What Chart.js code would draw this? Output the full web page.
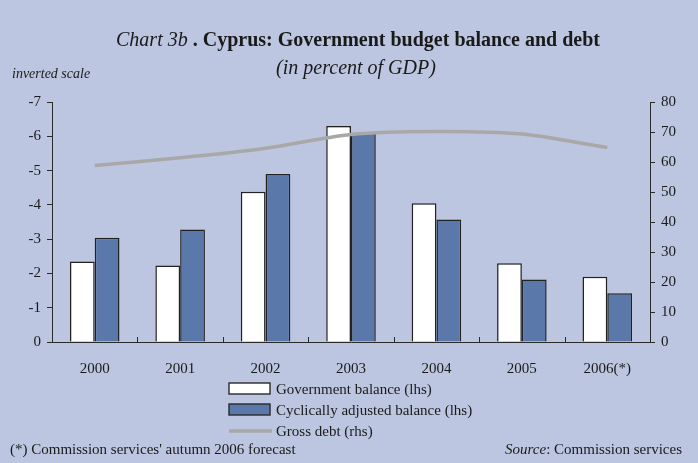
<!DOCTYPE html>
<html>
<head>
<meta charset="utf-8">
<script src="https://cdn.jsdelivr.net/npm/chart.js@4"></script>
<style>
  html, body { margin: 0; padding: 0; background: #bcc6e0; }
  canvas { display: block; }
</style>
</head>
<body>
<canvas id="grafico" width="698" height="463"></canvas>
<script>
// data
const years = ["2000", "2001", "2002", "2003", "2004", "2005", "2006(*)"];
const govBalance = [-2.35, -2.23, -4.38, -6.3, -4.05, -2.3, -1.9];
const cycAdjBalance = [-3.04, -3.28, -4.9, -6.1, -3.57, -1.82, -1.42];
const grossDebt = [58.8, 61.4, 64.6, 69.2, 70.2, 69.3, 64.8];
const leftTicks = [-7, -6, -5, -4, -3, -2, -1, 0];
const rightTicks = [0, 10, 20, 30, 40, 50, 60, 70, 80];

const BG = "#bcc6e0";
const AXIS = "#2a2a2a";
const SERIF = "'Liberation Serif', 'DejaVu Serif', serif";

const decorations = {
    id: "decorations",
    beforeDraw(chart) {
        const c = chart.ctx;
        c.save();
        c.fillStyle = BG;
        c.fillRect(0, 0, chart.width, chart.height);
        c.restore();
    },
    afterDraw(chart) {
        const c = chart.ctx;
        const x = chart.scales.x;
        const area = chart.chartArea;
        c.save();
        c.fillStyle = "#1a1a1a";
        c.textBaseline = "alphabetic";

        // title, mixed italic / bold
        const t1 = "Chart 3b ";
        const t2 = ". Cyprus: Government budget balance and debt";
        c.font = "italic 20px " + SERIF;
        const w1 = c.measureText(t1).width;
        c.font = "bold 20px " + SERIF;
        const w2 = c.measureText(t2).width;
        let tx = 358 - (w1 + w2) / 2;
        c.font = "italic 20px " + SERIF;
        c.fillText(t1, tx, 46);
        c.font = "bold 20px " + SERIF;
        c.fillText(t2, tx + w1, 46);

        c.font = "italic 20px " + SERIF;
        c.textAlign = "center";
        c.fillText("(in percent of GDP)", 356, 74);

        c.textAlign = "left";
        c.font = "italic 14px " + SERIF;
        c.fillText("inverted scale", 12, 78);

        // category tick marks pointing up from the x axis
        c.strokeStyle = AXIS;
        c.lineWidth = 1;
        for (let i = 0; i < years.length - 1; i++) {
            const px = Math.round((x.getPixelForTick(i) + x.getPixelForTick(i + 1)) / 2) + 0.5;
            c.beginPath();
            c.moveTo(px, area.bottom);
            c.lineTo(px, area.bottom - 5);
            c.stroke();
        }

        // legend
        c.font = "15px " + SERIF;
        c.lineWidth = 1.4;
        c.fillStyle = "#ffffff";
        c.fillRect(229, 383, 41, 11);
        c.strokeRect(229, 383, 41, 11);
        c.fillStyle = "#5a78a9";
        c.fillRect(229, 404, 41, 11);
        c.strokeRect(229, 404, 41, 11);
        c.strokeStyle = "#a8a8a8";
        c.lineWidth = 3.5;
        c.beginPath();
        c.moveTo(229, 431);
        c.lineTo(272, 431);
        c.stroke();
        c.fillStyle = "#1a1a1a";
        c.fillText("Government balance (lhs)", 276, 394);
        c.fillText("Cyclically adjusted balance (lhs)", 276, 415);
        c.fillText("Gross debt (rhs)", 276, 436);

        // footnotes
        c.fillText("(*) Commission services' autumn 2006 forecast", 10, 454);
        c.textAlign = "right";
        c.fillText(": Commission services", 682, 454);
        const w3 = c.measureText(": Commission services").width;
        c.font = "italic 15px " + SERIF;
        c.fillText("Source", 682 - w3, 454);
        c.restore();
    }
};

new Chart(document.getElementById("grafico"), {
    data: {
        labels: years,
        datasets: [{
            type: "line",
            label: "Gross debt (rhs)",
            data: grossDebt,
            yAxisID: "y1",
            borderColor: "#a8a8a8",
            borderWidth: 3.5,
            pointRadius: 0,
            tension: 0.3,
            order: 0
        }, {
            type: "bar",
            label: "Government balance (lhs)",
            data: govBalance,
            yAxisID: "y",
            backgroundColor: "#ffffff",
            borderColor: "#222222",
            borderWidth: 1.5,
            categoryPercentage: 0.58,
            barPercentage: 1,
            order: 1
        }, {
            type: "bar",
            label: "Cyclically adjusted balance (lhs)",
            data: cycAdjBalance,
            yAxisID: "y",
            backgroundColor: "#5a78a9",
            borderColor: "#222222",
            borderWidth: 1.5,
            categoryPercentage: 0.58,
            barPercentage: 1,
            order: 1
        }]
    },
    options: {
        responsive: false,
        animation: false,
        layout: { padding: { top: 102, left: 0, right: 0, bottom: 0 } },
        scales: {
            x: {
                grid: { display: false },
                border: { color: AXIS, width: 1 },
                ticks: { color: "#1a1a1a", padding: 10, font: { family: SERIF, size: 15 } },
                afterFit(s) { s.height = 121; }
            },
            y: {
                position: "left",
                reverse: true,
                min: -7,
                max: 0,
                afterBuildTicks(s) { s.ticks = leftTicks.map(v => ({ value: v })); },
                grid: { drawOnChartArea: false, drawTicks: true, tickLength: 5, color: AXIS },
                border: { color: AXIS, width: 1 },
                ticks: { color: "#1a1a1a", padding: 6, font: { family: SERIF, size: 15 } },
                afterFit(s) { s.width = 52; }
            },
            y1: {
                position: "right",
                min: 0,
                max: 80,
                afterBuildTicks(s) { s.ticks = rightTicks.map(v => ({ value: v })); },
                grid: { drawOnChartArea: false, drawTicks: true, tickLength: 5, color: AXIS },
                border: { color: AXIS, width: 1 },
                ticks: { color: "#1a1a1a", padding: 6, font: { family: SERIF, size: 15 } },
                afterFit(s) { s.width = 48; }
            }
        },
        plugins: {
            legend: { display: false },
            title: { display: false },
            tooltip: { enabled: false }
        }
    },
    plugins: [decorations]
});
</script>
</body>
</html>
